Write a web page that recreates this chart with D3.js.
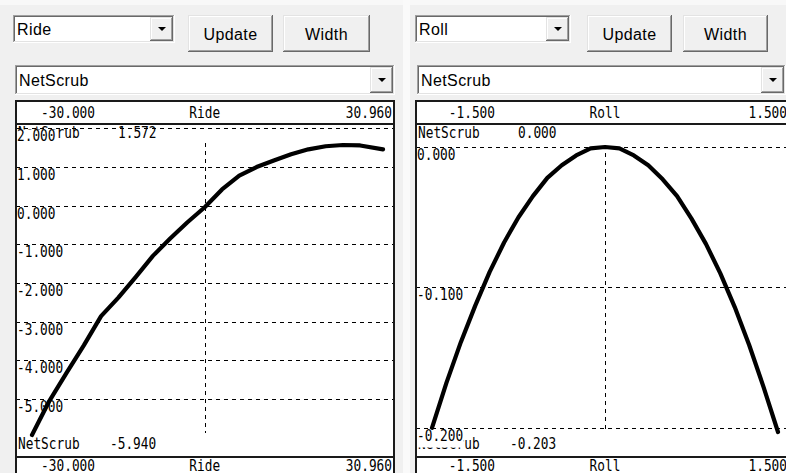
<!DOCTYPE html>
<html><head><meta charset="utf-8">
<script src="https://cdn.jsdelivr.net/npm/d3@7"></script>
<style>
html,body{margin:0;padding:0;background:#f0f0f0;overflow:hidden}
svg{display:block}
</style></head><body>
<script>
// ---------- data ----------
const rideX = [-30, -27, -24, -21, -18, -15, -12, -9, -6, -3, 0, 3, 6, 9, 12, 15, 18, 21, 24, 27, 30.96];
const rideNetScrub = [-5.94, -5.06, -4.33, -3.62, -2.86, -2.38, -1.85, -1.30, -0.85, -0.43, -0.04, 0.42, 0.78, 1.00, 1.17, 1.33, 1.46, 1.54, 1.572, 1.56, 1.46];
const rollX = [-1.5, -1.375, -1.25, -1.125, -1, -0.875, -0.75, -0.625, -0.5, -0.375, -0.25, -0.125, 0, 0.125, 0.25, 0.375, 0.5, 0.625, 0.75, 0.875, 1, 1.125, 1.25, 1.375, 1.5];
const rollNetScrub = [-0.200, -0.168, -0.139, -0.113, -0.089, -0.068, -0.050, -0.035, -0.022, -0.013, -0.006, -0.001, 0.000, -0.001, -0.006, -0.013, -0.023, -0.035, -0.051, -0.069, -0.090, -0.114, -0.141, -0.171, -0.203];
const rideTicks = [2, 1, 0, -1, -2, -3, -4, -5];
const rideTickLabels = ["2.000", "1.000", "0.000", "-1.000", "-2.000", "-3.000", "-4.000", "-5.000"];
const rollTicks = [0, -0.1, -0.2];
const rollTickLabels = ["0.000", "-0.100", "-0.200"];
const rideAxisLabels = ["-30.000", "Ride", "30.960"];
const rollAxisLabels = ["-1.500", "Roll", "1.500"];
const rideReadout = ["NetScrub", "1.572", "-5.940"];
const rollReadout = ["NetScrub", "0.000", "-0.203"];
const comboItems = ["Ride", "Roll"];
const buttonLabels = ["Update", "Width"];
const outputItem = "NetScrub";

const W = 786, H = 473;
const svg = d3.select("body").append("svg").attr("width", W).attr("height", H);
svg.append("rect").attr("width", W).attr("height", H).attr("fill", "#f0f0f0");
svg.append("rect").attr("x", 0).attr("y", 0).attr("width", W).attr("height", 5).attr("fill", "#f8f8f8");
svg.append("rect").attr("x", 403).attr("y", 0).attr("width", 7).attr("height", H).attr("fill", "#fafafa");

const UI_FONT = "'Liberation Sans', Arial, sans-serif";
const MONO = "'DejaVu Sans Mono', 'Liberation Mono', monospace";

function hline(g, x1, x2, y, c, w) { g.append("line").attr("x1", x1).attr("x2", x2).attr("y1", y).attr("y2", y).attr("stroke", c).attr("stroke-width", w || 1); }
function vline(g, x, y1, y2, c, w) { g.append("line").attr("x1", x).attr("x2", x).attr("y1", y1).attr("y2", y2).attr("stroke", c).attr("stroke-width", w || 1); }

function uiText(g, x, y, t, anchor) {
  g.append("text").attr("x", x).attr("y", y).text(t)
    .attr("font-family", UI_FONT).attr("font-size", 16).attr("letter-spacing", 0.4)
    .attr("fill", "#000").attr("text-anchor", anchor || "start");
}

function dropButton(g, x, y, w, h) {
  g.append("rect").attr("x", x).attr("y", y).attr("width", w).attr("height", h).attr("fill", "#f0f0f0");
  hline(g, x, x + w, y + 0.5, "#e3e3e3"); vline(g, x + 0.5, y, y + h, "#e3e3e3");
  hline(g, x + 1, x + w - 1, y + 1.5, "#ffffff"); vline(g, x + 1.5, y + 1, y + h - 1, "#ffffff");
  hline(g, x, x + w, y + h - 0.5, "#696969"); vline(g, x + w - 0.5, y, y + h, "#696969");
  hline(g, x + 1, x + w - 1, y + h - 1.5, "#a0a0a0"); vline(g, x + w - 1.5, y + 1, y + h - 1, "#a0a0a0");
  const cx = Math.round(x + w / 2), cy = Math.round(y + h / 2);
  g.append("path").attr("d", `M${cx - 4},${cy - 2}L${cx + 4},${cy - 2}L${cx},${cy + 2}Z`).attr("fill", "#000");
}

function combo(g, x, y, w, h, text) {
  g.append("rect").attr("x", x).attr("y", y).attr("width", w).attr("height", h).attr("fill", "#fff");
  hline(g, x, x + w, y + 0.5, "#a0a0a0"); vline(g, x + 0.5, y, y + h, "#a0a0a0");
  hline(g, x + 1, x + w - 1, y + 1.5, "#696969"); vline(g, x + 1.5, y + 1, y + h - 1, "#696969");
  hline(g, x, x + w, y + h - 0.5, "#ffffff"); vline(g, x + w - 0.5, y, y + h, "#ffffff");
  hline(g, x + 1, x + w - 1, y + h - 1.5, "#e3e3e3"); vline(g, x + w - 1.5, y + 1, y + h - 1, "#e3e3e3");
  dropButton(g, x + w - 25, y + 2, 23, h - 4);
  uiText(g, x + 4, y + h / 2 + 6, text);
}

function button(g, x, y, w, h, text) {
  g.append("rect").attr("x", x).attr("y", y).attr("width", w).attr("height", h).attr("fill", "#f0f0f0");
  hline(g, x, x + w, y + 0.5, "#e3e3e3"); vline(g, x + 0.5, y, y + h, "#e3e3e3");
  hline(g, x + 1, x + w - 1, y + 1.5, "#ffffff"); vline(g, x + 1.5, y + 1, y + h - 1, "#ffffff");
  hline(g, x, x + w, y + h - 0.5, "#696969"); vline(g, x + w - 0.5, y, y + h, "#696969");
  hline(g, x + 1, x + w - 1, y + h - 1.5, "#a0a0a0"); vline(g, x + w - 1.5, y + 1, y + h - 1, "#a0a0a0");
  uiText(g, x + w / 2, y + h / 2 + 6, text, "middle");
}

function monoText(g, x, y, t, anchor) {
  return g.append("text").attr("transform", `translate(${x},${y}) scale(1,1.24)`).text(t)
    .attr("font-family", MONO).attr("font-size", 12.8).attr("fill", "#000")
    .attr("text-anchor", anchor || "start");
}

function chart(cfg) {
  const g = svg.append("g");
  const L = cfg.L, R = cfg.R, T = 100, HB = 123, B = 456;
  g.append("rect").attr("x", L).attr("y", T).attr("width", R - L).attr("height", H - T + 10).attr("fill", "#fff");

  const x = d3.scaleLinear().domain(d3.extent(cfg.xs)).range([L + 17, R - 12]);
  const y = d3.scaleLinear().domain(d3.extent(cfg.ys)).range(cfg.yRange);
  const x0 = x(0);

  // horizontal grid
  cfg.ticks.forEach(t => {
    const yy = Math.round(y(t)) + 0.5;
    g.append("line").attr("x1", L + 1).attr("x2", R - 1).attr("y1", yy).attr("y2", yy)
      .attr("stroke", "#000").attr("stroke-width", 1).attr("stroke-dasharray", "4,4");
  });
  // vertical cursor
  const [ymn, ymx] = d3.extent(cfg.ys);
  g.append("line").attr("x1", Math.round(x0) + 0.5).attr("x2", Math.round(x0) + 0.5)
    .attr("y1", y(ymx) - 2).attr("y2", y(ymn) - 2)
    .attr("stroke", "#000").attr("stroke-width", 1).attr("stroke-dasharray", "4,4");

  // readouts
  monoText(g, L + 3, T + 38, cfg.readout[0]);
  monoText(g, L + 103, T + 38, cfg.readout[1]);
  monoText(g, L + 3, B - 7, cfg.readout[0]);
  monoText(g, L + 95, B - 7, cfg.readout[2]);

  // tick labels with white background
  cfg.ticks.forEach((t, i) => {
    const yy = Math.round(y(t));
    const lab = cfg.tickLabels[i];
    g.append("rect").attr("x", L + 1.5).attr("y", yy + 1.5).attr("width", lab.length * 7.7 + 1).attr("height", 18).attr("fill", "#fff");
    monoText(g, L + 2, yy + 13, lab);
  });

  // curve
  const pts = cfg.xs.map((v, i) => [v, cfg.ys[i]]);
  g.append("path").datum(pts)
    .attr("d", d3.line().x(d => x(d[0])).y(d => y(d[1])))
    .attr("fill", "none").attr("stroke", "#000").attr("stroke-width", 4.2)
    .attr("stroke-linejoin", "round").attr("stroke-linecap", "round");

  // axis header/footer labels
  [T + 18, B + 15].forEach(by => {
    monoText(g, L + 80, by, cfg.axisLabels[0], "end");
    monoText(g, x0, by, cfg.axisLabels[1], "middle");
    monoText(g, R - 3, by, cfg.axisLabels[2], "end");
  });

  // frame
  const fc = "#1a1a1a";
  hline(g, L, R, T + 1, fc, 2);
  hline(g, L, R, HB + 1, fc, 2);
  hline(g, L, R, B + 1, fc, 2);
  vline(g, L + 1, T, H + 5, fc, 2);
  vline(g, R - 1, T, H + 5, fc, 2);
}

// left panel controls
const gl = svg.append("g");
combo(gl, 13, 15, 162, 28, comboItems[0]);
button(gl, 188, 15, 85, 37, buttonLabels[0]);
button(gl, 283, 15, 87, 37, buttonLabels[1]);
combo(gl, 15, 65, 380, 30, outputItem);

// right panel controls
const gr = svg.append("g");
combo(gr, 415, 15, 156, 28, comboItems[1]);
button(gr, 587, 15, 85, 37, buttonLabels[0]);
button(gr, 683, 15, 85, 37, buttonLabels[1]);
combo(gr, 417, 65, 369, 30, outputItem);

chart({ L: 15, R: 395, xs: rideX, ys: rideNetScrub, yRange: [435, 145],
  ticks: rideTicks, tickLabels: rideTickLabels, axisLabels: rideAxisLabels, readout: rideReadout });
chart({ L: 415, R: 790, xs: rollX, ys: rollNetScrub, yRange: [432, 147],
  ticks: rollTicks, tickLabels: rollTickLabels, axisLabels: rollAxisLabels, readout: rollReadout });
</script>
</body></html>
